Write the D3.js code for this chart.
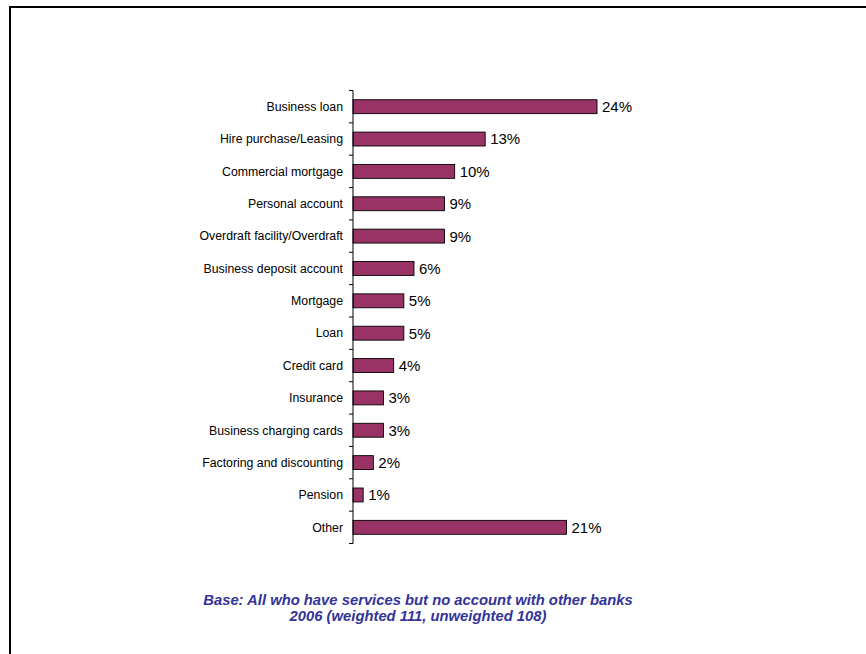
<!DOCTYPE html>
<html>
<head>
<meta charset="utf-8">
<script src="https://cdn.jsdelivr.net/npm/d3@7"></script>
<style>
  html, body { margin: 0; padding: 0; background: #fff; }
  svg { display: block; }
</style>
</head>
<body>
<svg id="chart" width="866" height="654"></svg>
<script>
// Services held with the bank (share of respondents, %)
const categories = [
  "Business loan",
  "Hire purchase/Leasing",
  "Commercial mortgage",
  "Personal account",
  "Overdraft facility/Overdraft",
  "Business deposit account",
  "Mortgage",
  "Loan",
  "Credit card",
  "Insurance",
  "Business charging cards",
  "Factoring and discounting",
  "Pension",
  "Other"
];
const values = [24, 13, 10, 9, 9, 6, 5, 5, 4, 3, 3, 2, 1, 21];
const footnoteLines = [
  "Base: All who have services but no account with other banks",
  "2006 (weighted 111, unweighted 108)"
];

const svg = d3.select("#chart");

// Frame around the slide
svg.append("path")
  .attr("d", "M10,654 L10,7 L866,7")
  .attr("fill", "none")
  .attr("stroke", "#000")
  .attr("stroke-width", 2);

const x = d3.scaleLinear().domain([0, 24]).range([353, 597]);
const y = d3.scaleBand().domain(categories).range([90.5, 543.5]).paddingInner(0.57).paddingOuter(0.285);

// Bars
svg.append("g").selectAll("rect")
  .data(categories)
  .join("rect")
  .attr("x", x(0))
  .attr("y", d => y(d))
  .attr("width", (d, i) => x(values[i]) - x(0))
  .attr("height", y.bandwidth())
  .attr("fill", "#993366")
  .attr("stroke", "#000")
  .attr("stroke-width", 0.9);

// Category axis with ticks between the bands
const axisG = svg.append("g");
const r = y.range();
axisG.append("line")
  .attr("x1", x(0)).attr("x2", x(0))
  .attr("y1", r[0]).attr("y2", r[1])
  .attr("stroke", "#000").attr("stroke-width", 1);
const bounds = d3.range(categories.length + 1).map(i => r[0] + i * (r[1] - r[0]) / categories.length);
axisG.selectAll("line.tick")
  .data(bounds)
  .join("line")
  .attr("class", "tick")
  .attr("x1", x(0) - 4).attr("x2", x(0))
  .attr("y1", d => d).attr("y2", d => d)
  .attr("stroke", "#000").attr("stroke-width", 1);

// Category labels
svg.append("g").selectAll("text")
  .data(categories)
  .join("text")
  .attr("x", 343)
  .attr("y", d => y(d) + y.bandwidth() / 2)
  .attr("dy", "0.35em")
  .attr("text-anchor", "end")
  .attr("font-family", "Liberation Sans, Arial, sans-serif")
  .attr("font-size", 12.3)
  .attr("fill", "#000")
  .text(d => d);

// Value labels
svg.append("g").selectAll("text")
  .data(categories)
  .join("text")
  .attr("x", (d, i) => x(values[i]) + 5)
  .attr("y", d => y(d) + y.bandwidth() / 2)
  .attr("dy", "0.36em")
  .attr("font-family", "Liberation Sans, Arial, sans-serif")
  .attr("font-size", 15)
  .attr("fill", "#000")
  .text((d, i) => values[i] + "%");

// Footnote
svg.append("g").selectAll("text")
  .data(footnoteLines)
  .join("text")
  .attr("x", 418)
  .attr("y", (d, i) => 605 + i * 15.5)
  .attr("text-anchor", "middle")
  .attr("font-family", "Liberation Sans, Arial, sans-serif")
  .attr("font-size", 14.8)
  .attr("font-weight", "bold")
  .attr("font-style", "italic")
  .attr("fill", "#333399")
  .text(d => d);
</script>
</body>
</html>
